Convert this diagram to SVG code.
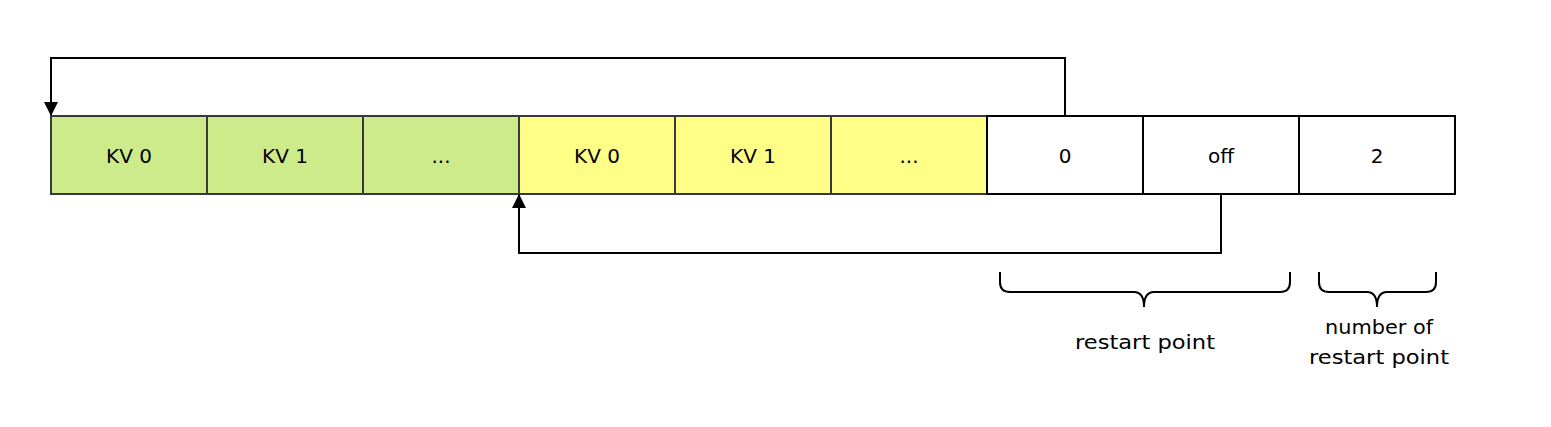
<svg xmlns="http://www.w3.org/2000/svg" width="1551" height="427" viewBox="0 0 1551 427">
<defs>
<style>
text{font-family:"Comic Sans MS","DejaVu Sans",sans-serif;font-size:20px;fill:#000;text-anchor:middle;dominant-baseline:central}
.g{fill:#cdeb8b;stroke:#36393d;stroke-width:2}
.y{fill:#ffff88;stroke:#36393d;stroke-width:2}
.w{fill:#fff;stroke:#000;stroke-width:2}
.c{fill:none;stroke:#000;stroke-width:2}
</style>
<marker id="ah" markerWidth="14" markerHeight="14" refX="13" refY="7" orient="auto" markerUnits="userSpaceOnUse" viewBox="0 0 14 14">
<path d="M0,0 L14,7 L0,14 Z" fill="#000"/>
</marker>
</defs>
<rect width="1551" height="427" fill="#fff"/>
<g id="n1"><rect class="g" x="51" y="116" width="156" height="78"/><text x="129" y="156">KV 0</text></g>
<g id="n2"><rect class="g" x="207" y="116" width="156" height="78"/><text x="285" y="156">KV 1</text></g>
<g id="n3"><rect class="g" x="363" y="116" width="156" height="78"/><text x="441" y="156">...</text></g>
<g id="n4"><rect class="y" x="519" y="116" width="156" height="78"/><text x="597" y="156">KV 0</text></g>
<g id="n5"><rect class="y" x="675" y="116" width="156" height="78"/><text x="753" y="156">KV 1</text></g>
<g id="n6"><rect class="y" x="831" y="116" width="156" height="78"/><text x="909" y="156">...</text></g>
<g id="n7"><rect class="w" x="987" y="116" width="156" height="78"/><text x="1065" y="156">0</text></g>
<g id="n8"><rect class="w" x="1143" y="116" width="156" height="78"/><text x="1221" y="156">off</text></g>
<g id="n9"><rect class="w" x="1299" y="116" width="156" height="78"/><text x="1377" y="156">2</text></g>
<g id="connectors">
<path class="c" d="M1065,116 V58 H51 V115" marker-end="url(#ah)"/>
<path class="c" d="M1221,194 V253 H519 V195" marker-end="url(#ah)"/>
</g>
<g id="brace1">
<path class="c" d="M1000,272 V282 Q1000,292 1010,292 H1134 Q1144,292 1144,307 Q1144,292 1154,292 H1280 Q1290,292 1290,282 V272"/>
<text x="1145" y="342" textLength="140" lengthAdjust="spacingAndGlyphs">restart point</text>
</g>
<g id="brace2">
<path class="c" d="M1319,272 V282 Q1319,292 1329,292 H1367 Q1377,292 1377,307 Q1377,292 1387,292 H1426 Q1436,292 1436,282 V272"/>
<text x="1379" y="327" textLength="108" lengthAdjust="spacingAndGlyphs">number of</text>
<text x="1379" y="357" textLength="140" lengthAdjust="spacingAndGlyphs">restart point</text>
</g>
</svg>
